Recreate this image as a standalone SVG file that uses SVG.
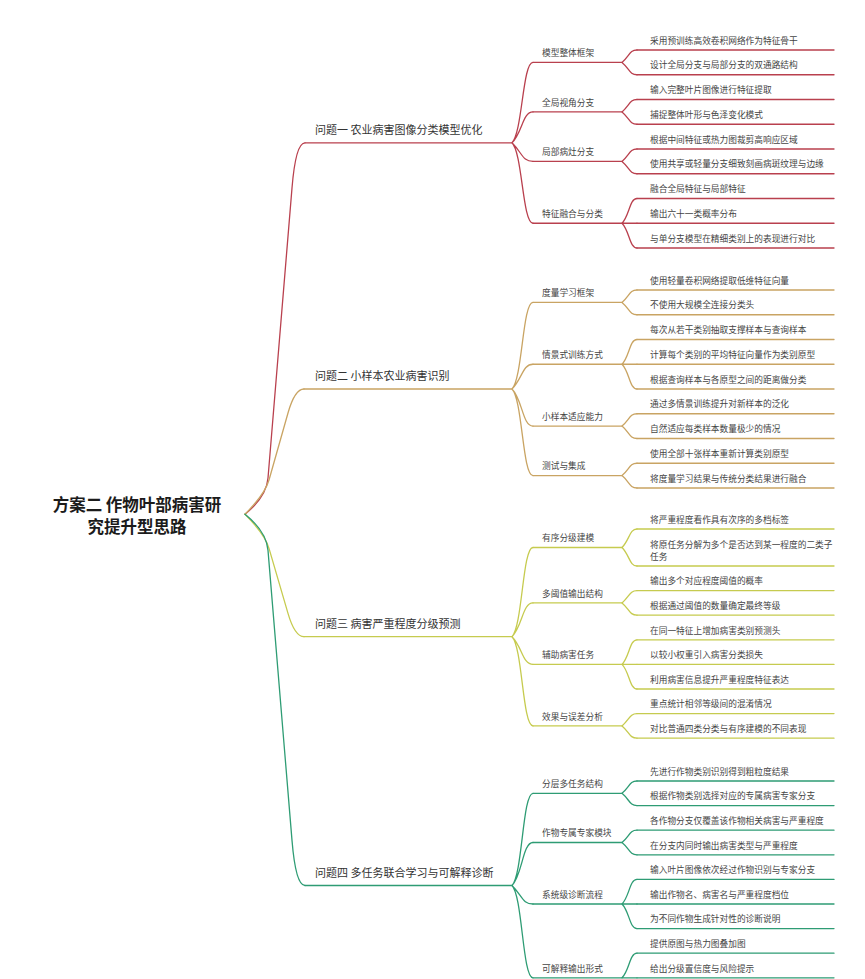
<svg xmlns="http://www.w3.org/2000/svg" width="865" height="979" viewBox="0 0 865 979">
<style>
text{font-family:"Noto Sans CJK SC","Noto Sans",sans-serif}
.root{font-size:16.5px;font-weight:700;fill:#1b1b1b}
.l1{font-size:11px;fill:#333}
.l2,.l3{font-size:8.7px;fill:#444}
.k{fill:none;stroke-width:1.3;stroke-linecap:round}
.r{stroke:#b9404e}.y{stroke:#c9a463}.g{stroke:#c6cb4f}.t{stroke:#2e9c74}
</style>
<rect width="865" height="979" fill="#ffffff"/>
<g id="connectors">
<path class="k r" d="M245 514.2Q266.4 497 268 478L292 188Q295.7 142.8 305 142.8"/>
<path class="k y" d="M245 514.2Q265 494 269 480L288 413Q294.8 389 304 389"/>
<path class="k g" d="M245 514.2Q265 534.4 269 548.4L288 613.4Q294.8 636.7 304 636.7"/>
<path class="k t" d="M245 514.2Q266.4 531.4 268 550.4L292 840.4Q295.7 885.5 305 885.5"/>
<path class="k r" d="M512 142.8C522.5 132.3 522.5 62.4 533 62.4M512 142.8C522.5 132.3 522.5 111.9 533 111.9M512 142.8C522.5 153.3 522.5 161.4 533 161.4M512 142.8C522.5 153.3 522.5 223.25 533 223.25"/>
<path class="k y" d="M512 389C522.5 378.5 522.5 302.4 533 302.4M512 389C522.5 378.5 522.5 364.25 533 364.25M512 389C522.5 399.5 522.5 426.1 533 426.1M512 389C522.5 399.5 522.5 475.6 533 475.6"/>
<path class="k g" d="M512 636.7C522.5 626.2 522.5 547.5 533 547.5M512 636.7C522.5 626.2 522.5 602.9 533 602.9M512 636.7C522.5 647.2 522.5 664.4 533 664.4M512 636.7C522.5 647.2 522.5 725.9 533 725.9"/>
<path class="k t" d="M512 885.5C522.5 875 522.5 793.3 533 793.3M512 885.5C522.5 875 522.5 842.5 533 842.5M512 885.5C522.5 896 522.5 904 533 904M512 885.5C522.5 896 522.5 977.8 533 977.8"/>
<path class="k r" d="M622 62.4C629.5 56.2 629.5 50 637 50M622 62.4C629.5 68.6 629.5 74.75 637 74.75M622 111.9C629.5 105.7 629.5 99.5 637 99.5M622 111.9C629.5 118.1 629.5 124.25 637 124.25M622 161.4C629.5 155.2 629.5 149 637 149M622 161.4C629.5 167.6 629.5 173.75 637 173.75M622 223.25C629.5 215.75 629.5 198.5 637 198.5M622 223.25H637M622 223.25C629.5 230.75 629.5 248 637 248"/>
<path class="k y" d="M622 302.4C629.5 296.2 629.5 290 637 290M622 302.4C629.5 308.6 629.5 314.75 637 314.75M622 364.25C629.5 356.75 629.5 339.5 637 339.5M622 364.25H637M622 364.25C629.5 371.75 629.5 389 637 389M622 426.1C629.5 419.9 629.5 413.75 637 413.75M622 426.1C629.5 432.3 629.5 438.5 637 438.5M622 475.6C629.5 469.4 629.5 463.25 637 463.25M622 475.6C629.5 481.8 629.5 488 637 488"/>
<path class="k g" d="M622 547.5C629.5 540 629.5 529 637 529M622 547.5C629.5 555 629.5 566 637 566M622 602.9C629.5 596.75 629.5 590.6 637 590.6M622 602.9C629.5 609.05 629.5 615.2 637 615.2M622 664.4C629.5 656.9 629.5 639.8 637 639.8M622 664.4H637M622 664.4C629.5 671.9 629.5 689 637 689M622 725.9C629.5 719.75 629.5 713.6 637 713.6M622 725.9C629.5 732.05 629.5 738.2 637 738.2"/>
<path class="k t" d="M622 793.3C629.5 787.15 629.5 781 637 781M622 793.3C629.5 799.45 629.5 805.6 637 805.6M622 842.5C629.5 836.35 629.5 830.2 637 830.2M622 842.5C629.5 848.65 629.5 854.8 637 854.8M622 904C629.5 896.5 629.5 879.4 637 879.4M622 904H637M622 904C629.5 911.5 629.5 928.6 637 928.6M622 977.8C629.5 970.3 629.5 953.2 637 953.2M622 977.8H637"/>
</g>
<g id="root"><text class="root" x="137" y="511" text-anchor="middle">方案二 作物叶部病害研</text><text class="root" x="137" y="533" text-anchor="middle">究提升型思路</text></g>
<g id="p1"><text class="l1" x="315" y="133.8">问题一 农业病害图像分类模型优化</text><line class="k r" x1="305" y1="142.8" x2="512" y2="142.8"/></g>
<g id="p2"><text class="l1" x="315" y="380">问题二 小样本农业病害识别</text><line class="k y" x1="304" y1="389" x2="512" y2="389"/></g>
<g id="p3"><text class="l1" x="315" y="627.7">问题三 病害严重程度分级预测</text><line class="k g" x1="304" y1="636.7" x2="512" y2="636.7"/></g>
<g id="p4"><text class="l1" x="315" y="876.5">问题四 多任务联合学习与可解释诊断</text><line class="k t" x1="305" y1="885.5" x2="512" y2="885.5"/></g>
<g id="p1-1"><text class="l2" x="542" y="56.2">模型整体框架</text><line class="k r" x1="533" y1="62.4" x2="622" y2="62.4"/></g>
<g id="p1-2"><text class="l2" x="542" y="105.7">全局视角分支</text><line class="k r" x1="533" y1="111.9" x2="622" y2="111.9"/></g>
<g id="p1-3"><text class="l2" x="542" y="155.2">局部病灶分支</text><line class="k r" x1="533" y1="161.4" x2="622" y2="161.4"/></g>
<g id="p1-4"><text class="l2" x="542" y="217.05">特征融合与分类</text><line class="k r" x1="533" y1="223.25" x2="622" y2="223.25"/></g>
<g id="p2-1"><text class="l2" x="542" y="296.2">度量学习框架</text><line class="k y" x1="533" y1="302.4" x2="622" y2="302.4"/></g>
<g id="p2-2"><text class="l2" x="542" y="358.05">情景式训练方式</text><line class="k y" x1="533" y1="364.25" x2="622" y2="364.25"/></g>
<g id="p2-3"><text class="l2" x="542" y="419.9">小样本适应能力</text><line class="k y" x1="533" y1="426.1" x2="622" y2="426.1"/></g>
<g id="p2-4"><text class="l2" x="542" y="469.4">测试与集成</text><line class="k y" x1="533" y1="475.6" x2="622" y2="475.6"/></g>
<g id="p3-1"><text class="l2" x="542" y="541.3">有序分级建模</text><line class="k g" x1="533" y1="547.5" x2="622" y2="547.5"/></g>
<g id="p3-2"><text class="l2" x="542" y="596.7">多阈值输出结构</text><line class="k g" x1="533" y1="602.9" x2="622" y2="602.9"/></g>
<g id="p3-3"><text class="l2" x="542" y="658.2">辅助病害任务</text><line class="k g" x1="533" y1="664.4" x2="622" y2="664.4"/></g>
<g id="p3-4"><text class="l2" x="542" y="719.7">效果与误差分析</text><line class="k g" x1="533" y1="725.9" x2="622" y2="725.9"/></g>
<g id="p4-1"><text class="l2" x="542" y="787.1">分层多任务结构</text><line class="k t" x1="533" y1="793.3" x2="622" y2="793.3"/></g>
<g id="p4-2"><text class="l2" x="542" y="836.3">作物专属专家模块</text><line class="k t" x1="533" y1="842.5" x2="622" y2="842.5"/></g>
<g id="p4-3"><text class="l2" x="542" y="897.8">系统级诊断流程</text><line class="k t" x1="533" y1="904" x2="622" y2="904"/></g>
<g id="p4-4"><text class="l2" x="542" y="971.6">可解释输出形式</text><line class="k t" x1="533" y1="977.8" x2="622" y2="977.8"/></g>
<g id="p1-1-1"><text class="l3" x="650" y="43.7">采用预训练高效卷积网络作为特征骨干</text><line class="k r" x1="637" y1="50" x2="834" y2="50"/></g>
<g id="p1-1-2"><text class="l3" x="650" y="68.45">设计全局分支与局部分支的双通路结构</text><line class="k r" x1="637" y1="74.75" x2="834" y2="74.75"/></g>
<g id="p1-2-1"><text class="l3" x="650" y="93.2">输入完整叶片图像进行特征提取</text><line class="k r" x1="637" y1="99.5" x2="834" y2="99.5"/></g>
<g id="p1-2-2"><text class="l3" x="650" y="117.95">捕捉整体叶形与色泽变化模式</text><line class="k r" x1="637" y1="124.25" x2="834" y2="124.25"/></g>
<g id="p1-3-1"><text class="l3" x="650" y="142.7">根据中间特征或热力图裁剪高响应区域</text><line class="k r" x1="637" y1="149" x2="834" y2="149"/></g>
<g id="p1-3-2"><text class="l3" x="650" y="167.45">使用共享或轻量分支细致刻画病斑纹理与边缘</text><line class="k r" x1="637" y1="173.75" x2="834" y2="173.75"/></g>
<g id="p1-4-1"><text class="l3" x="650" y="192.2">融合全局特征与局部特征</text><line class="k r" x1="637" y1="198.5" x2="834" y2="198.5"/></g>
<g id="p1-4-2"><text class="l3" x="650" y="216.95">输出六十一类概率分布</text><line class="k r" x1="637" y1="223.25" x2="834" y2="223.25"/></g>
<g id="p1-4-3"><text class="l3" x="650" y="241.7">与单分支模型在精细类别上的表现进行对比</text><line class="k r" x1="637" y1="248" x2="834" y2="248"/></g>
<g id="p2-1-1"><text class="l3" x="650" y="283.7">使用轻量卷积网络提取低维特征向量</text><line class="k y" x1="637" y1="290" x2="834" y2="290"/></g>
<g id="p2-1-2"><text class="l3" x="650" y="308.45">不使用大规模全连接分类头</text><line class="k y" x1="637" y1="314.75" x2="834" y2="314.75"/></g>
<g id="p2-2-1"><text class="l3" x="650" y="333.2">每次从若干类别抽取支撑样本与查询样本</text><line class="k y" x1="637" y1="339.5" x2="834" y2="339.5"/></g>
<g id="p2-2-2"><text class="l3" x="650" y="357.95">计算每个类别的平均特征向量作为类别原型</text><line class="k y" x1="637" y1="364.25" x2="834" y2="364.25"/></g>
<g id="p2-2-3"><text class="l3" x="650" y="382.7">根据查询样本与各原型之间的距离做分类</text><line class="k y" x1="637" y1="389" x2="834" y2="389"/></g>
<g id="p2-3-1"><text class="l3" x="650" y="407.45">通过多情景训练提升对新样本的泛化</text><line class="k y" x1="637" y1="413.75" x2="834" y2="413.75"/></g>
<g id="p2-3-2"><text class="l3" x="650" y="432.2">自然适应每类样本数量极少的情况</text><line class="k y" x1="637" y1="438.5" x2="834" y2="438.5"/></g>
<g id="p2-4-1"><text class="l3" x="650" y="456.95">使用全部十张样本重新计算类别原型</text><line class="k y" x1="637" y1="463.25" x2="834" y2="463.25"/></g>
<g id="p2-4-2"><text class="l3" x="650" y="481.7">将度量学习结果与传统分类结果进行融合</text><line class="k y" x1="637" y1="488" x2="834" y2="488"/></g>
<g id="p3-1-1"><text class="l3" x="650" y="522.7">将严重程度看作具有次序的多档标签</text><line class="k g" x1="637" y1="529" x2="834" y2="529"/></g>
<g id="p3-1-2"><text class="l3" x="650" y="547.6">将原任务分解为多个是否达到某一程度的二类子</text><text class="l3" x="650" y="559.9">任务</text><line class="k g" x1="637" y1="566" x2="834" y2="566"/></g>
<g id="p3-2-1"><text class="l3" x="650" y="584.3">输出多个对应程度阈值的概率</text><line class="k g" x1="637" y1="590.6" x2="834" y2="590.6"/></g>
<g id="p3-2-2"><text class="l3" x="650" y="608.9">根据通过阈值的数量确定最终等级</text><line class="k g" x1="637" y1="615.2" x2="834" y2="615.2"/></g>
<g id="p3-3-1"><text class="l3" x="650" y="633.5">在同一特征上增加病害类别预测头</text><line class="k g" x1="637" y1="639.8" x2="834" y2="639.8"/></g>
<g id="p3-3-2"><text class="l3" x="650" y="658.1">以较小权重引入病害分类损失</text><line class="k g" x1="637" y1="664.4" x2="834" y2="664.4"/></g>
<g id="p3-3-3"><text class="l3" x="650" y="682.7">利用病害信息提升严重程度特征表达</text><line class="k g" x1="637" y1="689" x2="834" y2="689"/></g>
<g id="p3-4-1"><text class="l3" x="650" y="707.3">重点统计相邻等级间的混淆情况</text><line class="k g" x1="637" y1="713.6" x2="834" y2="713.6"/></g>
<g id="p3-4-2"><text class="l3" x="650" y="731.9">对比普通四类分类与有序建模的不同表现</text><line class="k g" x1="637" y1="738.2" x2="834" y2="738.2"/></g>
<g id="p4-1-1"><text class="l3" x="650" y="774.7">先进行作物类别识别得到粗粒度结果</text><line class="k t" x1="637" y1="781" x2="834" y2="781"/></g>
<g id="p4-1-2"><text class="l3" x="650" y="799.3">根据作物类别选择对应的专属病害专家分支</text><line class="k t" x1="637" y1="805.6" x2="834" y2="805.6"/></g>
<g id="p4-2-1"><text class="l3" x="650" y="823.9">各作物分支仅覆盖该作物相关病害与严重程度</text><line class="k t" x1="637" y1="830.2" x2="834" y2="830.2"/></g>
<g id="p4-2-2"><text class="l3" x="650" y="848.5">在分支内同时输出病害类型与严重程度</text><line class="k t" x1="637" y1="854.8" x2="834" y2="854.8"/></g>
<g id="p4-3-1"><text class="l3" x="650" y="873.1">输入叶片图像依次经过作物识别与专家分支</text><line class="k t" x1="637" y1="879.4" x2="834" y2="879.4"/></g>
<g id="p4-3-2"><text class="l3" x="650" y="897.7">输出作物名、病害名与严重程度档位</text><line class="k t" x1="637" y1="904" x2="834" y2="904"/></g>
<g id="p4-3-3"><text class="l3" x="650" y="922.3">为不同作物生成针对性的诊断说明</text><line class="k t" x1="637" y1="928.6" x2="834" y2="928.6"/></g>
<g id="p4-4-1"><text class="l3" x="650" y="946.9">提供原图与热力图叠加图</text><line class="k t" x1="637" y1="953.2" x2="834" y2="953.2"/></g>
<g id="p4-4-2"><text class="l3" x="650" y="971.5">给出分级置信度与风险提示</text><line class="k t" x1="637" y1="977.8" x2="834" y2="977.8"/></g>
</svg>
